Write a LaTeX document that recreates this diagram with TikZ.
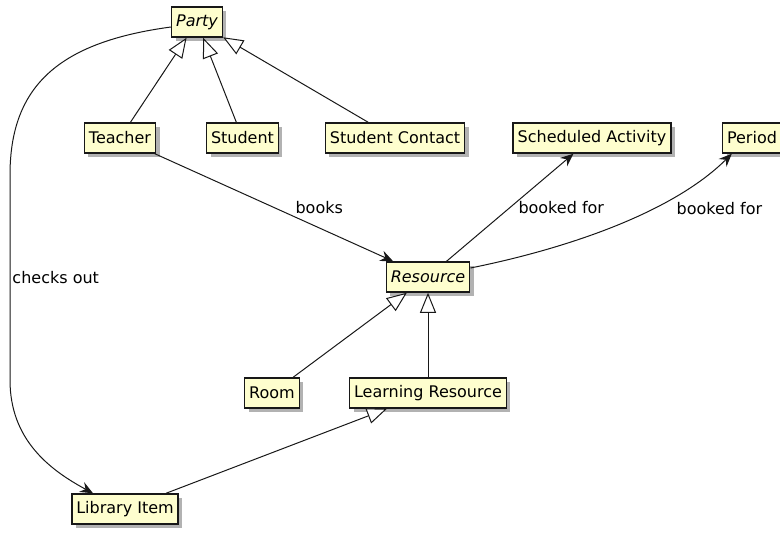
\documentclass[tikz,border=0pt]{standalone}
\usepackage{fontspec}
\setmainfont{DejaVu Sans}[ItalicFont={DejaVu Sans Oblique}]
\usetikzlibrary{arrows.meta, shadows}

\definecolor{classfill}{HTML}{FEFECE}
\definecolor{classline}{HTML}{181818}

\tikzset{
    classbox/.style={draw=classline, line width=1.5pt, fill=classfill,
        minimum height=30pt, inner xsep=4.5pt, inner ysep=0pt,
        drop shadow={shadow xshift=4pt, shadow yshift=-4pt, opacity=0.3, fill=black}},
    abstractbox/.style={classbox, font=\fontsize{16}{19}\selectfont\itshape},
    extends/.style={draw=classline, line width=1pt,
        -{Triangle[open, fill=white, length=20pt, width=16pt]}},
    assoc/.style={draw=classline, line width=1pt,
        -{Stealth[length=13pt, width=11pt, inset=4.5pt]}},
    lbl/.style={inner sep=2pt}
}

\begin{document}
\begin{tikzpicture}[x=1pt, y=1pt, font=\fontsize{16}{19}\selectfont]
    \useasboundingbox (0, 0) rectangle (780, -533);

    % Klassen
    \node[abstractbox] (party) at (197, -22) {Party};
    \node[classbox] (teacher) at (120, -138) {Teacher};
    \node[classbox] (student) at (242.5, -138) {Student};
    \node[classbox] (contact) at (395, -138) {Student Contact};
    \node[classbox] (sched) at (592, -138) {Scheduled Activity};
    \node[classbox] (period) at (752, -138) {Period};
    \node[abstractbox] (resource) at (428, -277) {Resource};
    \node[classbox] (room) at (272, -393) {Room};
    \node[classbox] (learn) at (428, -393) {Learning Resource};
    \node[classbox] (libitem) at (125, -509) {Library Item};

    % Vererbung
    \draw[extends] (teacher) -- (party);
    \draw[extends] (student) -- (party);
    \draw[extends] (contact) -- (party);
    \draw[extends] (room) -- (resource);
    \draw[extends] (learn) -- (resource);
    \draw[extends] (libitem) -- (learn);

    % Assoziationen
    \draw[assoc] (teacher) -- node[pos=0.58, anchor=south west, lbl] {books} (resource);
    \draw[assoc] (resource) -- node[pos=0.5, right=6pt, lbl] {booked for} (sched);
    \draw[assoc] ([yshift=9pt]resource.east) .. controls (560, -250) and (670, -215)
        .. node[pos=0.65, right=22pt, lbl] {booked for} ([xshift=10pt]period.south west);
    \draw[assoc] ([yshift=-5pt]party.west) .. controls (60, -42) and (10, -85) .. (10, -175)
        -- node[anchor=west, lbl] {checks out} (10, -380)
        .. controls (10, -440) and (50, -470) .. ([xshift=22pt]libitem.north west);
\end{tikzpicture}
\end{document}
